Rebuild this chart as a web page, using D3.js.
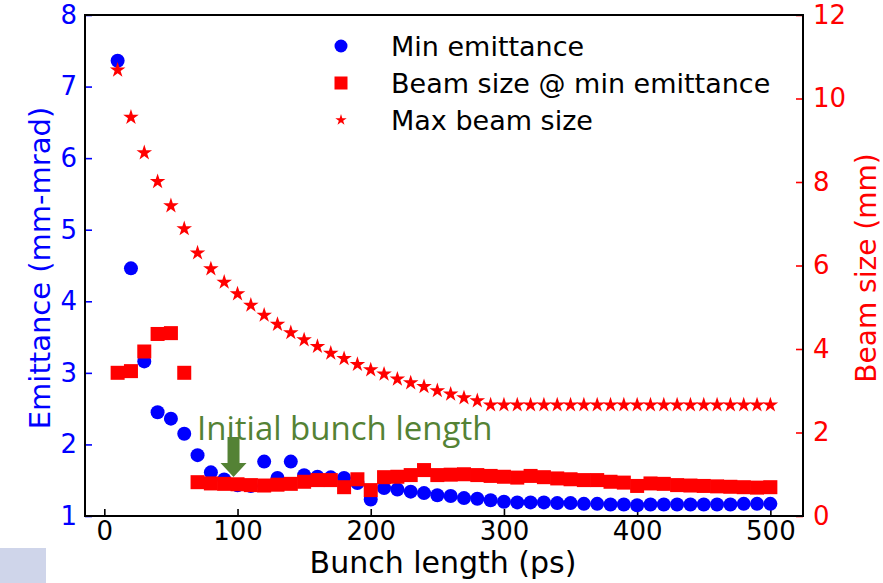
<!DOCTYPE html>
<html>
<head>
<meta charset="utf-8">
<script src="https://cdn.jsdelivr.net/npm/d3@7"></script>
<style>
  body { margin: 0; background: #fff; }
  svg { display: block; font-family: "DejaVu Sans", sans-serif; }
</style>
</head>
<body>
<script>
// data

var bunchLength = d3.range(10, 501, 10);

var minEmittance = [
  7.36, 4.46, 3.16, 2.45, 2.36, 2.15, 1.85, 1.61, 1.51, 1.43,
  1.42, 1.76, 1.53, 1.76, 1.57, 1.55, 1.54, 1.53, 1.46, 1.23,
  1.39, 1.37, 1.34, 1.32, 1.29, 1.28, 1.25, 1.24, 1.22, 1.20,
  1.19, 1.19, 1.19, 1.18, 1.18, 1.17, 1.17, 1.16, 1.16, 1.15,
  1.16, 1.16, 1.16, 1.16, 1.16, 1.16, 1.16, 1.17, 1.17, 1.17
];

var beamSizeAtMin = [
  3.43, 3.47, 3.94, 4.36, 4.38, 3.43, 0.81, 0.78, 0.77, 0.76,
  0.74, 0.73, 0.75, 0.77, 0.82, 0.86, 0.86, 0.69, 0.88, 0.62,
  0.93, 0.94, 0.98, 1.10, 0.98, 0.99, 1.00, 0.98, 0.96, 0.94,
  0.92, 0.96, 0.93, 0.90, 0.88, 0.86, 0.86, 0.82, 0.80, 0.72,
  0.78, 0.77, 0.74, 0.73, 0.72, 0.71, 0.70, 0.69, 0.68, 0.69
];

var maxBeamSize = [
  10.68, 9.55, 8.70, 8.01, 7.43, 6.88, 6.30, 5.92, 5.60, 5.32,
  5.05, 4.81, 4.59, 4.39, 4.22, 4.06, 3.90, 3.77, 3.63, 3.50,
  3.40, 3.28, 3.19, 3.10, 3.00, 2.92, 2.83, 2.76, 2.66, 2.66,
  2.66, 2.66, 2.66, 2.66, 2.66, 2.66, 2.66, 2.66, 2.66, 2.66,
  2.66, 2.66, 2.66, 2.66, 2.66, 2.66, 2.66, 2.66, 2.66, 2.66
];

var xTicks = [0, 100, 200, 300, 400, 500];
var leftTicks = [1, 2, 3, 4, 5, 6, 7, 8];
var rightTicks = [0, 2, 4, 6, 8, 10, 12];
var legendLabels = ["Min emittance", "Beam size @ min emittance", "Max beam size"];

// layout

var width = 883, height = 583;
var box = { left: 85, right: 803, top: 15, bottom: 516 };

var x = d3.scaleLinear().domain([-14.5, 524.5]).range([box.left, box.right]);
var yLeft = d3.scaleLinear().domain([1, 8]).range([box.bottom, box.top]);
var yRight = d3.scaleLinear().domain([0, 12]).range([box.bottom, box.top]);

var svg = d3.select("body").append("svg")
    .attr("width", width)
    .attr("height", height);

svg.append("rect")
    .attr("x", 0).attr("y", 548).attr("width", 46).attr("height", 35)
    .attr("fill", "#cfd5ea");

// axes, ticks pointing inward

var bottomAxis = svg.append("g")
    .attr("transform", "translate(0," + box.bottom + ")")
    .call(d3.axisBottom(x).tickValues(xTicks).tickFormat(d3.format("d"))
      .tickSizeInner(-7).tickSizeOuter(0).tickPadding(6));
var leftAxis = svg.append("g")
    .attr("transform", "translate(" + box.left + ",0)")
    .call(d3.axisLeft(yLeft).tickValues(leftTicks).tickFormat(d3.format("d"))
      .tickSizeInner(-7).tickSizeOuter(0).tickPadding(8));
var rightAxis = svg.append("g")
    .attr("transform", "translate(" + box.right + ",0)")
    .call(d3.axisRight(yRight).tickValues(rightTicks).tickFormat(d3.format("d"))
      .tickSizeInner(-7).tickSizeOuter(0).tickPadding(10));

[bottomAxis, leftAxis, rightAxis].forEach(function(g) {
  g.select(".domain").remove();
  g.selectAll("text").attr("font-family", "DejaVu Sans").attr("font-size", 26);
  g.selectAll("line").attr("stroke-width", 1.6);
});
leftAxis.selectAll("line").attr("stroke", "#0000ff");
leftAxis.selectAll("text").attr("fill", "#0000ff");
rightAxis.selectAll("line").attr("stroke", "#ff0000");
rightAxis.selectAll("text").attr("fill", "#ff0000");
bottomAxis.selectAll("text").attr("fill", "#000");

svg.append("rect")
    .attr("x", box.left).attr("y", box.top)
    .attr("width", box.right - box.left).attr("height", box.bottom - box.top)
    .attr("fill", "none").attr("stroke", "#000").attr("stroke-width", 2);

svg.append("text")
    .attr("x", 443).attr("y", 573)
    .attr("text-anchor", "middle").attr("font-size", 30)
    .text("Bunch length (ps)");
svg.append("text")
    .attr("transform", "translate(50,268) rotate(-90)")
    .attr("text-anchor", "middle").attr("font-size", 29).attr("fill", "#0000ff")
    .text("Emittance (mm-mrad)");
svg.append("text")
    .attr("transform", "translate(876,268) rotate(-90)")
    .attr("text-anchor", "middle").attr("font-size", 28).attr("fill", "#ff0000")
    .text("Beam size (mm)");

// data markers

var points = bunchLength.map(function(b, i) {
  return { b: b, emit: minEmittance[i], size: beamSizeAtMin[i], max: maxBeamSize[i] };
});

svg.append("g").selectAll("circle").data(points).join("circle")
    .attr("cx", function(d) { return x(d.b); })
    .attr("cy", function(d) { return yLeft(d.emit); })
    .attr("r", 7)
    .attr("fill", "#0000ff");

svg.append("g").selectAll("rect").data(points).join("rect")
    .attr("x", function(d) { return x(d.b) - 7; })
    .attr("y", function(d) { return yRight(d.size) - 7; })
    .attr("width", 14).attr("height", 14)
    .attr("fill", "#ff0000");

var star = d3.symbol().type(d3.symbolStar).size(75);
svg.append("g").selectAll("path").data(points).join("path")
    .attr("transform", function(d) { return "translate(" + x(d.b) + "," + yRight(d.max) + ")"; })
    .attr("d", star)
    .attr("fill", "#ff0000");

// legend

var legend = svg.append("g").attr("transform", "translate(341,46)");
legend.append("circle").attr("cx", 0).attr("cy", 0).attr("r", 6.5).attr("fill", "#0000ff");
legend.append("rect").attr("x", -6.5).attr("y", 37 - 6.5).attr("width", 13).attr("height", 13).attr("fill", "#ff0000");
legend.append("path").attr("transform", "translate(0,74)").attr("d", d3.symbol().type(d3.symbolStar).size(40)).attr("fill", "#ff0000");
legend.selectAll("text").data(legendLabels).join("text")
    .attr("x", 50)
    .attr("y", function(d, i) { return i * 37; })
    .attr("dy", "0.36em")
    .attr("font-size", 27)
    .attr("fill", "#000")
    .text(function(d) { return d; });

// annotation

svg.append("text")
    .attr("x", 197).attr("y", 440)
    .attr("font-family", "Open Sans, Noto Sans, sans-serif")
    .attr("font-size", 33)
    .attr("fill", "#548235")
    .text("Initial bunch length");

var ax = x(97);
svg.append("path")
    .attr("d", "M" + (ax - 6) + ",437 h12 v26 h7 l-13,14 l-13,-14 h7 z")
    .attr("fill", "#548235");
</script>
</body>
</html>
